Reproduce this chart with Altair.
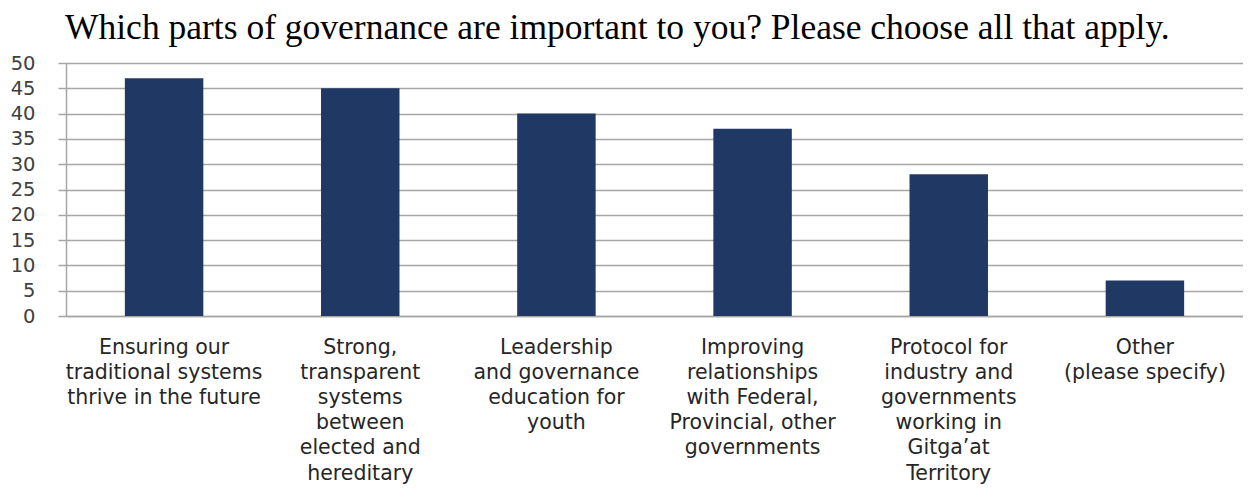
import altair as alt
import pandas as pd

categories = [
    "Ensuring our\ntraditional systems\nthrive in the future",
    "Strong,\ntransparent\nsystems\nbetween\nelected and\nhereditary",
    "Leadership\nand governance\neducation for\nyouth",
    "Improving\nrelationships\nwith Federal,\nProvincial, other\ngovernments",
    "Protocol for\nindustry and\ngovernments\nworking in\nGitga\u2019at\nTerritory",
    "Other\n(please specify)",
]
values = [47, 45, 40, 37, 28, 7]
y_ticks = [0, 5, 10, 15, 20, 25, 30, 35, 40, 45, 50]

df = pd.DataFrame({"category": categories, "value": values})

grid_color = "#A6A6A6"

chart = (
    alt.Chart(df)
    .mark_bar(color="#1F3864")
    .encode(
        x=alt.X(
            "category:N",
            sort=categories,
            scale=alt.Scale(paddingInner=0.6, paddingOuter=0.3),
            axis=alt.Axis(
                title=None,
                labelAngle=0,
                labelExpr="split(datum.label, '\\n')",
                labelFont="DejaVu Sans",
                labelFontSize=20.5,
                labelColor="#262626",
                labelLineHeight=25.2,
                labelBaseline="top",
                labelPadding=21,
                ticks=False,
                domain=True,
                domainColor=grid_color,
                domainWidth=1.5,
                labelLimit=300,
            ),
        ),
        y=alt.Y(
            "value:Q",
            scale=alt.Scale(domain=[0, 50], nice=False),
            axis=alt.Axis(
                title=None,
                values=y_ticks,
                labelFont="DejaVu Sans",
                labelFontSize=19.5,
                labelColor="#404040",
                labelPadding=23,
                tickSize=8,
                tickColor=grid_color,
                tickWidth=1.5,
                gridColor=grid_color,
                gridWidth=1.5,
                domainColor=grid_color,
                domainWidth=1.5,
            ),
        ),
    )
    .properties(
        width=1177,
        height=253,
        padding={"left": 58, "top": 55, "right": 0, "bottom": 170},
        autosize=alt.AutoSizeParams(type="none"),
        title=alt.TitleParams(
            text="Which parts of governance are important to you? Please choose all that apply.",
            font="Liberation Serif",
            fontSize=35.5,
            fontWeight="normal",
            color="#000000",
            anchor="start",
            frame="group",
            offset=7,
            dx=-1,
        ),
    )
    .configure_view(stroke=None)
)

chart.save("out.html", embed_options={"renderer": "svg", "actions": False})
